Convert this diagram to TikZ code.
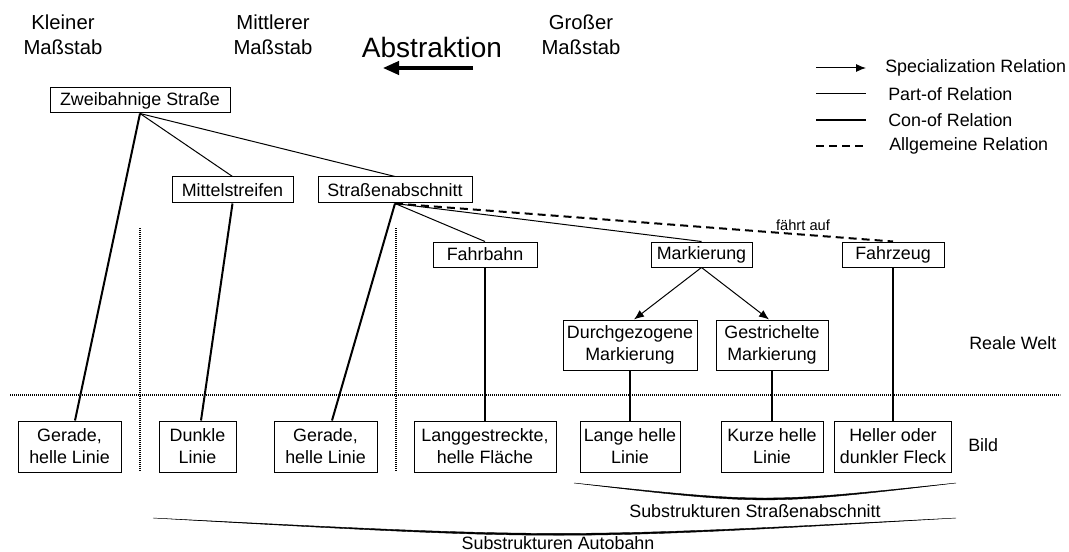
\documentclass[tikz,border=0pt]{standalone}
\usepackage{fontspec}
\setmainfont{Liberation Sans}
\usetikzlibrary{calc,arrows.meta}

\begin{document}
\begin{tikzpicture}[x=0.75pt,y=-0.75pt,
  box/.style={draw,line width=0.75pt,inner sep=0pt,align=center,
    font=\fontsize{13.4}{16.5}\selectfont},
  sz/.style 2 args={minimum width=#1*0.75pt,minimum height=#2*0.75pt},
  lbl/.style={inner sep=0pt,font=\fontsize{13.4}{16.5}\selectfont},
  scalelbl/.style={inner sep=0pt,align=center,font=\fontsize{15.2}{18.75}\selectfont},
  partof/.style={line width=0.75pt},
  conof/.style={line width=1.5pt},
  spec/.style={line width=0.75pt,-{Latex[length=7.5pt,width=6pt]}},
  general/.style={line width=1.5pt,dash pattern=on 6pt off 3.75pt},
  sep/.style={line width=1.3pt,dash pattern=on 0.8pt off 0.7pt},
  brace/.style={fill=black,draw=black,line width=0.3pt}
]
\path[use as bounding box] (0,0) rectangle (1069,552);

% scale headings and abstraction arrow
\node[scalelbl] (kl) at (63,34.5) {Kleiner\\Maßstab};
\node[scalelbl] (mi) at (273,34.5) {Mittlerer\\Maßstab};
\node[scalelbl] (gr) at (581,34.5) {Großer\\Maßstab};
\node[inner sep=0pt,font=\fontsize{21}{25}\selectfont] (abs) at (432,47) {Abstraktion};
\coordinate (absR) at (473,68);
\coordinate (absL) at (383,68);
\draw[line width=2.3pt,-{Triangle[length=12pt,width=10pt]}] (absR) -- (absL);

% legend
\coordinate (l1a) at (816,68);  \coordinate (l1b) at (866,68);
\coordinate (l2a) at (816,94);  \coordinate (l2b) at (866,94);
\coordinate (l3a) at (816,120); \coordinate (l3b) at (866,120);
\coordinate (l4a) at (816,146); \coordinate (l4b) at (866,146);
\draw[spec] (l1a) -- (l1b);
\draw[partof] (l2a) -- (l2b);
\draw[conof] (l3a) -- (l3b);
\draw[general] (l4a) -- (l4b);
\node[lbl,anchor=west] (t1) at (885,68) {Specialization Relation};
\node[lbl,anchor=west] (t2) at (888,94) {Part-of Relation};
\node[lbl,anchor=west] (t3) at (888,120) {Con-of Relation};
\node[lbl,anchor=west] (t4) at (889,146) {Allgemeine Relation};

% separators between real world and image
\coordinate (hL) at (10,395);  \coordinate (hR) at (1060,395);
\coordinate (v1t) at (140,228); \coordinate (v1b) at (140,471);
\coordinate (v2t) at (396,228); \coordinate (v2b) at (396,471);
\draw[sep] (hL) -- (hR);
\draw[sep] (v1t) -- (v1b);
\draw[sep] (v2t) -- (v2b);

% real-world concepts
\node[box,sz={180}{25}] (zs) at (140,100.5) {Zweibahnige Straße};
\node[box,sz={121}{26}] (ms) at (232.5,190) {Mittelstreifen};
\node[box,sz={154}{26}] (sa) at (395,190) {Straßenabschnitt};
\node[box,sz={104}{25}] (fb) at (485,254.5) {Fahrbahn};
\node[box,sz={101}{25}] (mk) at (701.5,254.5) {Markierung};
\node[box,sz={102}{25}] (fz) at (893,254.5) {Fahrzeug};
\node[box,sz={134}{50}] (dm) at (630,345) {Durchgezogene\\Markierung};
\node[box,sz={112}{50}] (gm) at (772,345) {Gestrichelte\\Markierung};

% image features
\node[box,sz={103}{51}] (g1) at (69.5,446.5) {Gerade,\\helle Linie};
\node[box,sz={77}{51}]  (dl) at (197.5,446.5) {Dunkle\\Linie};
\node[box,sz={103}{51}] (g2) at (325.5,446.5) {Gerade,\\helle Linie};
\node[box,sz={142}{51}] (lf) at (485,446.5) {Langgestreckte,\\helle Fläche};
\node[box,sz={100}{51}] (lh) at (630,446.5) {Lange helle\\Linie};
\node[box,sz={102}{51}] (kh) at (772,446.5) {Kurze helle\\Linie};
\node[box,sz={117}{51}] (hf) at (893,446.5) {Heller oder\\dunkler Fleck};

% level labels
\node[lbl,anchor=west] (rw) at (969,343) {Reale Welt};
\node[lbl,anchor=west] (bd) at (968,445) {Bild};

% relations
\draw[partof] (zs.south) -- (ms.north);
\draw[partof] (zs.south) -- (sa.north);
\draw[conof] (zs.south) -- ($(g1.north)+(5.5,0)$);
\draw[conof] (ms.south) -- ($(dl.north)+(3.5,0)$);
\draw[conof] (sa.south) -- ($(g2.north)+(6.5,0)$);
\draw[partof] (sa.south) -- (fb.north);
\draw[partof] (sa.south) -- (mk.north);
\draw[general] (sa.south) -- (fz.north);
\node[inner sep=0pt,font=\fontsize{11}{13}\selectfont] (fa) at (803,225) {fährt auf};
\draw[conof] (fb.south) -- (lf.north);
\draw[spec] (mk.south) -- ($(dm.north)+(4,0)$);
\draw[spec] (mk.south) -- ($(gm.north)+(-3,0)$);
\draw[conof] (dm.south) -- (lh.north);
\draw[conof] (gm.south) -- (kh.north);
\draw[conof] (fz.south) -- (hf.north);

% substructure braces (thin crescents, thicker in the middle)
\coordinate (b1a) at (574,483); \coordinate (b1b) at (956,483);
\path[brace] (b1a) .. controls (765,505.5) .. (b1b)
             .. controls (765,503) .. (b1a) -- cycle;
\node[lbl] (sub1) at (755,511) {Substrukturen Straßenabschnitt};
\coordinate (b2a) at (153,518); \coordinate (b2b) at (956,518);
\path[brace] (b2a) .. controls (560,541) .. (b2b)
             .. controls (560,538.5) .. (b2a) -- cycle;
\node[lbl] (sub2) at (558,543) {Substrukturen Autobahn};
\end{tikzpicture}
\end{document}
